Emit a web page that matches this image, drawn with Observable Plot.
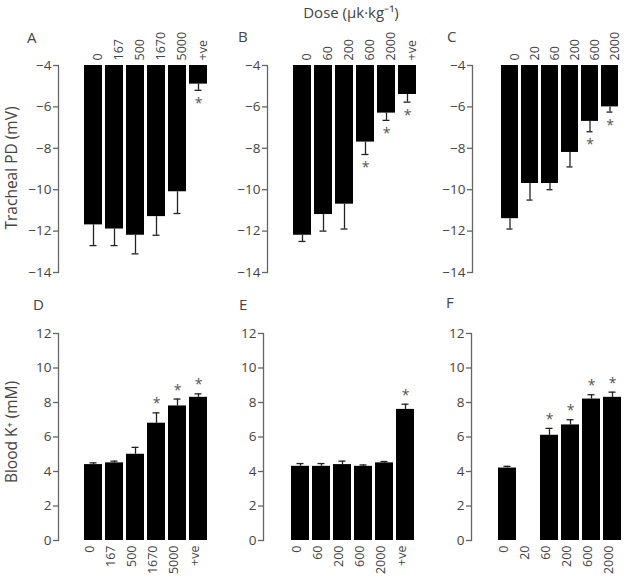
<!DOCTYPE html>
<html>
<head>
<meta charset="utf-8">
<script src="https://cdn.jsdelivr.net/npm/d3@7"></script>
<script src="https://cdn.jsdelivr.net/npm/@observablehq/plot@0.6"></script>
<style>
  html, body { margin: 0; padding: 0; background: #fff; }
  #fig { position: relative; width: 629px; height: 585px; font-family: "Open Sans", sans-serif; color: #444; overflow: hidden; }
  .panel { position: absolute; }
  .lab { position: absolute; font-size: 15px; color: #444; line-height: 1; }
  .ytitle { position: absolute; font-size: 15.5px; color: #444; white-space: nowrap; transform: translate(-50%, -50%) rotate(-90deg); line-height: 1; }
</style>
</head>
<body>
<div id="fig"></div>
<script>
// ---- data ----
const dosesA = ["0", "167", "500", "1670", "5000", "+ve"];
const dosesB = ["0", "60", "200", "600", "2000", "+ve"];
const dosesC = ["0", "20", "60", "200", "600", "2000"];

// Tracheal PD (mV), mean and SEM
const pdA = [-11.7, -11.9, -12.2, -11.3, -10.1, -4.9];
const pdAErr = [1.0, 0.8, 0.9, 0.9, 1.05, 0.3];
const pdASig = [false, false, false, false, false, true];

const pdB = [-12.2, -11.2, -10.7, -7.7, -6.3, -5.4];
const pdBErr = [0.3, 0.8, 1.2, 0.6, 0.35, 0.37];
const pdBSig = [false, false, false, true, true, true];

const pdC = [-11.4, -9.7, -9.7, -8.2, -6.7, -6.0];
const pdCErr = [0.5, 0.8, 0.3, 0.7, 0.5, 0.25];
const pdCSig = [false, false, false, false, true, true];

// Blood K+ (mM), mean and SEM
const kD = [4.4, 4.5, 5.0, 6.8, 7.8, 8.3];
const kDErr = [0.1, 0.1, 0.4, 0.6, 0.4, 0.2];
const kDSig = [false, false, false, true, true, true];

const kE = [4.3, 4.3, 4.4, 4.3, 4.5, 7.6];
const kEErr = [0.16, 0.16, 0.2, 0.08, 0.08, 0.3];
const kESig = [false, false, false, false, false, true];

const kF = [4.2, null, 6.1, 6.7, 8.2, 8.3];
const kFErr = [0.1, null, 0.4, 0.3, 0.25, 0.3];
const kFSig = [false, false, true, true, true, true];

const pdTicks = [-4, -6, -8, -10, -12, -14];
const kTicks = [0, 2, 4, 6, 8, 10, 12];

const doseTitle = "Dose (\u00b5k\u00b7kg\u207b\u00b9)";
const pdTitle = "Tracheal PD (mV)";
const kTitle = "Blood K\u207a (mM)";
const panelLetters = ["A", "B", "C", "D", "E", "F"];

// ---- layout ----
const fig = document.getElementById("fig");
const AXIS = "#666";
const TEXT = "#444";

function rows(doses, vals, errs, sigs) {
  return doses.map((d, i) => ({dose: d, v: vals[i], e: errs[i], sig: sigs[i]}));
}

function panel({left, top, width, height, marginLeft, marginTop, marginBottom, xRange, data, doses, top_row}) {
  const present = data.filter(d => d.v != null);
  const errEnd = d => top_row ? d.v - d.e : d.v + d.e;
  const yDomain = top_row ? [-14, -4] : [0, 12];
  const base = top_row ? -4 : 0;
  const chart = Plot.plot({
    width, height,
    marginLeft, marginRight: 0, marginTop, marginBottom,
    style: {fontFamily: "Open Sans, sans-serif", fontSize: "12px", color: TEXT, background: "transparent", overflow: "visible"},
    x: {type: "band", domain: doses, range: xRange, padding: 0.13, axis: null},
    y: {domain: yDomain, axis: null},
    marks: [
      Plot.frame({anchor: "left", stroke: AXIS, strokeWidth: 1.3}),
      Plot.axisY({ticks: top_row ? pdTicks : kTicks, tickSize: 5, tickPadding: 2, stroke: AXIS, strokeWidth: 1.3, fill: TEXT, fontSize: 13.5, label: null, tickFormat: d3.format("d")}),
      Plot.ruleX(present, {x: "dose", y1: "v", y2: errEnd, stroke: "#222", strokeWidth: 1.3}),
      Plot.tickY(present, {x: "dose", y: errEnd, stroke: "#222", strokeWidth: 1.3, insetLeft: 5.5, insetRight: 5.5}),
      Plot.barY(present, {x: "dose", y1: base, y2: "v", fill: "black"}),
      Plot.text(present.filter(d => d.sig), {x: "dose", y: errEnd, text: () => "*", dy: top_row ? 13 : -9, fontSize: 14, fill: "#555"}),
      Plot.text(data, {x: "dose", text: "dose", frameAnchor: top_row ? "top" : "bottom", dy: top_row ? -5 : 5, rotate: -90, textAnchor: top_row ? "start" : "end", fontSize: 12.5, fill: TEXT})
    ]
  });
  const div = document.createElement("div");
  div.className = "panel";
  div.style.left = left + "px";
  div.style.top = top + "px";
  div.appendChild(chart);
  fig.appendChild(div);
}

const topCfg = {top: 0, height: 290, marginTop: 65, marginBottom: 18, top_row: true};
const botCfg = {top: 290, height: 295, marginTop: 43, marginBottom: 45, top_row: false};

panel({...topCfg, left: 0, width: 215, marginLeft: 58, xRange: [80.5, 211], doses: dosesA, data: rows(dosesA, pdA, pdAErr, pdASig)});
panel({...topCfg, left: 215, width: 210, marginLeft: 52, xRange: [75, 204], doses: dosesB, data: rows(dosesB, pdB, pdBErr, pdBSig)});
panel({...topCfg, left: 425, width: 204, marginLeft: 47, xRange: [71, 198.5], doses: dosesC, data: rows(dosesC, pdC, pdCErr, pdCSig)});
panel({...botCfg, left: 0, width: 215, marginLeft: 58, xRange: [80.5, 211], doses: dosesA, data: rows(dosesA, kD, kDErr, kDSig)});
panel({...botCfg, left: 215, width: 210, marginLeft: 48, xRange: [73, 203], doses: dosesB, data: rows(dosesB, kE, kEErr, kESig)});
panel({...botCfg, left: 425, width: 204, marginLeft: 46, xRange: [70.5, 199.5], doses: dosesC, data: rows(dosesC, kF, kFErr, kFSig)});

// labels
function addLabel(text, x, y, cls) {
  const el = document.createElement("div");
  el.className = cls;
  el.textContent = text;
  el.style.left = x + "px";
  el.style.top = y + "px";
  fig.appendChild(el);
  return el;
}
const letterPos = [[27, 30], [238, 29], [447, 29], [33, 297], [239, 297], [446, 295]];
panelLetters.forEach((t, i) => addLabel(t, letterPos[i][0], letterPos[i][1], "lab"));
const dt = addLabel(doseTitle, 351, 5, "lab");
dt.style.transform = "translateX(-50%)";
addLabel(pdTitle, 12, 168, "ytitle");
addLabel(kTitle, 12, 432, "ytitle");
</script>
</body>
</html>
